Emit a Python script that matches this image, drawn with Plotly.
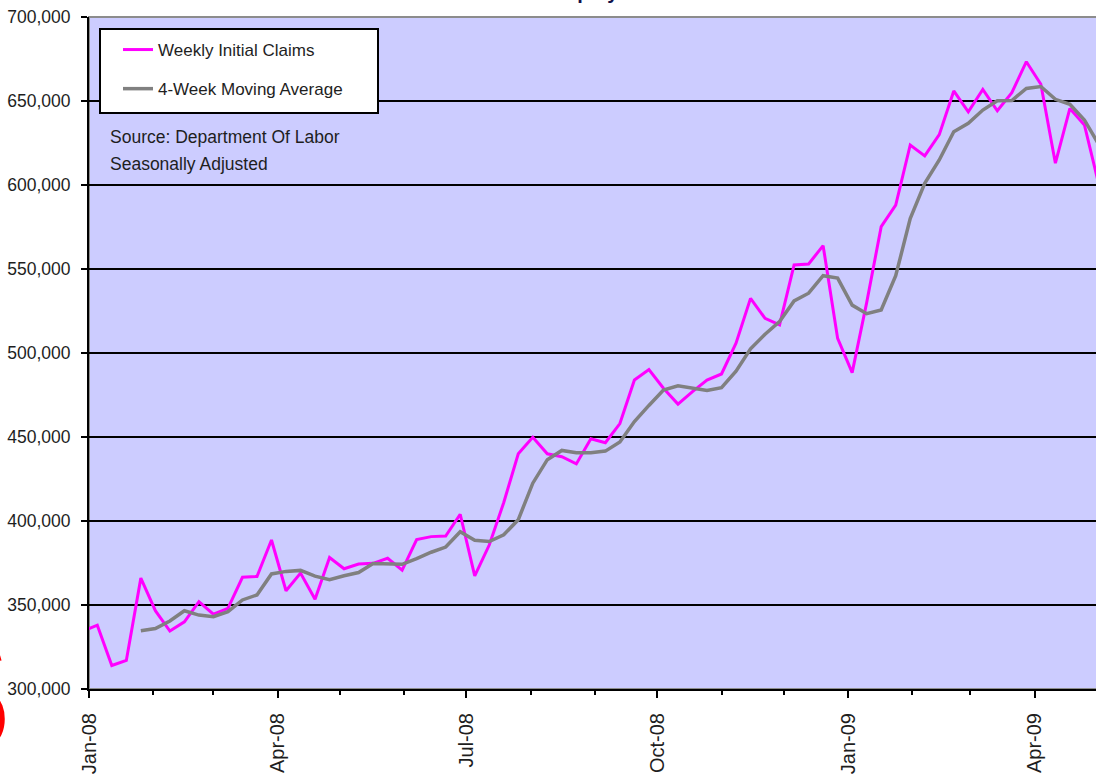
import plotly.graph_objects as go
import pandas as pd

# Weekly dates (Saturdays), first one falls just before the axis start
start_week = "2007-12-29"

weekly_claims = [
    334500, 338000, 314000, 317000, 366000, 346600, 334500, 340000, 352000, 344500,
    348000, 366500, 367000, 388700, 358500, 369000, 353400, 378300, 371600, 374400,
    374800, 377800, 370800, 388900, 390700, 391000, 404000, 367300, 385700, 411000,
    440000, 449800, 440000, 438300, 434000, 449000, 446600, 458000, 483900, 490200,
    479000, 469600, 477000, 483900, 487500, 505800, 532500, 520600, 516700, 552400,
    553000, 563900, 508700, 488300, 530000, 575200, 588000, 623800, 617300, 630000,
    656000, 643600, 656900, 644200, 655000, 673400, 660000, 613000, 645600, 635700,
    600000,
]

moving_avg = [
    334700, 336000, 340500, 346600, 344000, 343000, 346000, 353000, 356000, 368500,
    370000, 370600, 367200, 365000, 367400, 369300, 374700, 374500, 374200, 377600,
    381400, 384500, 393600, 388500, 387800, 391800, 400800, 422500, 436500, 442000,
    440600, 440600, 441600, 447000, 459200, 468800, 477900, 480500, 478900, 477700,
    479400, 489200, 502500, 511200, 518700, 531000, 535600, 546000, 544600, 528500,
    523400, 525600, 546000, 580000, 601000, 614900, 631700, 636700, 644600, 650100,
    650300, 657500, 658600, 651000, 648000, 638700, 624000,
]

series_names = ["Weekly Initial Claims", "4-Week Moving Average"]
y_tick_values = [300000, 350000, 400000, 450000, 500000, 550000, 600000, 650000, 700000]
x_tick_dates = ["2008-01-01", "2008-04-01", "2008-07-01", "2008-10-01", "2009-01-01", "2009-04-01"]
x_tick_labels = ["Jan-08", "Apr-08", "Jul-08", "Oct-08", "Jan-09", "Apr-09"]
note_lines = ["Source: Department Of Labor", "Seasonally Adjusted"]
title_text = "Initial Unemployment Claims"

dates = pd.date_range(start=start_week, periods=len(weekly_claims), freq="7D")
ma_dates = dates[len(weekly_claims) - len(moving_avg):]

FONT = "Liberation Sans, Arial, sans-serif"
TXT = "#1e1e1e"

W, H = 1096, 778
L, T, B = 89, 17, 89
plot_h = H - T - B
plot_w = W - L


def px(xp):
    return (xp - L) / plot_w


def py(yp):
    return (H - B - yp) / plot_h


fig = go.Figure()
fig.add_trace(go.Scatter(
    x=dates, y=weekly_claims, mode="lines", name=series_names[0],
    line=dict(color="#FF00FF", width=3), legendgroup="a",
))
fig.add_trace(go.Scatter(
    x=ma_dates, y=moving_avg, mode="lines", name=series_names[1],
    line=dict(color="#808080", width=3.5), legendgroup="b",
))

annotations = [
    dict(text=note_lines[0], xref="paper", yref="paper",
         x=px(108), y=py(137), xanchor="left", yanchor="middle", align="left",
         showarrow=False, font=dict(family=FONT, size=17.5, color=TXT)),
    dict(text=note_lines[1], xref="paper", yref="paper",
         x=px(108), y=py(164), xanchor="left", yanchor="middle", align="left",
         showarrow=False, font=dict(family=FONT, size=17.5, color=TXT)),
    dict(text="<b>" + title_text + "</b>", xref="paper", yref="paper",
         x=px(600), y=py(5), xanchor="center", yanchor="bottom",
         showarrow=False, font=dict(family=FONT, size=20, color="#10104a")),
    dict(text="<b>S</b>", xref="paper", yref="paper",
         x=px(14), y=py(692), xanchor="right", yanchor="middle",
         showarrow=False, font=dict(family=FONT, size=178, color="#FF0000")),
]

fig.update_layout(
    width=W, height=H,
    margin=dict(l=L, r=0, t=T, b=B, pad=0, autoexpand=False),
    paper_bgcolor="white",
    plot_bgcolor="#CCCCFF",
    font=dict(family=FONT, size=17.5, color=TXT),
    showlegend=True,
    legend=dict(
        x=px(118), y=py(32), xanchor="left", yanchor="top",
        bgcolor="rgba(0,0,0,0)", borderwidth=0,
        font=dict(family=FONT, size=17, color=TXT),
        tracegroupgap=14, itemwidth=30,
    ),
    xaxis=dict(
        type="date",
        range=["2008-01-01", "2009-04-30 14:00"],
        tickvals=x_tick_dates, ticktext=x_tick_labels,
        tickangle=-90,
        tickfont=dict(family=FONT, size=20, color=TXT),
        ticks="outside", ticklen=7, tickwidth=1.5, tickcolor="black",
        minor=dict(ticks="outside", ticklen=4, tickwidth=1.5, tickcolor="black",
                   dtick="M1", tick0="2008-01-01", showgrid=False),
        showgrid=False, zeroline=False, automargin=False,
        showline=True, linecolor="black", linewidth=2,
        ticklabelstandoff=7,
    ),
    yaxis=dict(
        range=[300000, 700000],
        tickvals=y_tick_values,
        tickformat=",d",
        ticks="outside", ticklen=6, tickwidth=1.5, tickcolor="black",
        showgrid=True, gridcolor="black", gridwidth=1.5,
        zeroline=False, automargin=False,
        showline=True, linecolor="black", linewidth=2,
        tickfont=dict(family=FONT, size=17.5, color=TXT),
        ticklabelstandoff=7,
    ),
    shapes=[
        dict(type="rect", xref="paper", yref="paper", x0=0, x1=1.01, y0=0, y1=1,
             line=dict(color="#8c8c8c", width=2), layer="below"),
        dict(type="rect", xref="paper", yref="paper",
             x0=px(100), x1=px(378), y0=py(113), y1=py(29),
             line=dict(color="black", width=2), fillcolor="white", layer="above"),
    ],
    annotations=annotations,
)

fig.write_html("out.html", config={"displayModeBar": False},
               post_script="document.body.style.margin='0';")
